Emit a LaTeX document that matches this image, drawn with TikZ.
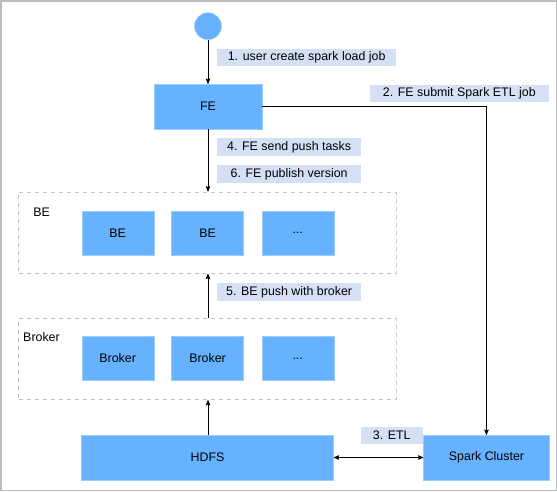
\documentclass[tikz,border=0pt]{standalone}
\usepackage{fontspec}
\setmainfont{Liberation Sans}
\usetikzlibrary{positioning,arrows}
\definecolor{nodeblue}{HTML}{66B2FF}
\definecolor{nodeline}{HTML}{99CCFF}
\definecolor{tagblue}{HTML}{D4E1F5}
\definecolor{groupgray}{HTML}{C4C4C4}
\definecolor{framegray}{HTML}{BDBDBD}

\begin{document}
\begin{tikzpicture}[x = 1pt, y = -1pt, >= stealth', every text node part/.style = {align = center},
	font = \fontsize{12.4}{15}\selectfont,
	unit/.style = {draw = nodeline, fill = nodeblue, minimum width = 72pt, minimum height = 44pt, inner sep = 0pt},
	tag/.style = {fill = tagblue, minimum height = 17.7pt, inner sep = 0pt, anchor = west, xshift = 8.7pt},
	cluster/.style = {draw = groupgray, line width = 0.9pt, dash pattern = on 4pt off 4pt, minimum width = 377.5pt, minimum height = 81.5pt, inner sep = 0pt},
	flow/.style = {line width = 0.9pt}]
	\useasboundingbox (0,0) rectangle (557,491);
	\draw[framegray, line width = 1.5pt] (0.75,0.75) rectangle (556.25,490.25);
	% nodes
	\node[circle, draw = nodeline, fill = nodeblue, minimum size = 27pt, inner sep = 0pt] (start) at (208,26.2) {};
	\node[unit, minimum width = 108pt, minimum height = 45pt] (fe) at (208,106.5) {FE};
	\node[cluster] (begroup) at (207.25,232.7) {};
	\node (belabel) at (41.7,212) {BE};
	\node[unit] (be1) at (117.7,233) {BE};
	\node[unit] (be2) at (207.6,233) {BE};
	\node[unit] (be3) at (297.7,233) {...};
	\node[cluster] (brokergroup) at (207.25,359) {};
	\node (brokerlabel) at (41.5,337) {Broker};
	\node[unit] (broker1) at (117.7,358.5) {Broker};
	\node[unit] (broker2) at (207.6,358.5) {Broker};
	\node[unit] (broker3) at (297.7,358.5) {...};
	\node[unit, minimum width = 252pt, minimum height = 45pt] (hdfs) at (207.6,457.5) {HDFS};
	\node[unit, minimum width = 126pt, minimum height = 45pt] (spark) at (486.5,457.5) {Spark Cluster};
	% connectors
	\path[->, flow] (start) edge node[tag, pos = 0.4, minimum width = 179pt] (t1) {1. user create spark load job} (fe);
	\draw[->, flow] (fe) -| node[tag, anchor = center, xshift = 0pt, pos = 0.42, yshift = 12.9pt, minimum width = 179pt] (t2) {2. FE submit Spark ETL job} (spark);
	\path[->, flow] (fe) edge node[tag, pos = 0.29, minimum width = 144pt] (t4) {4. FE send push tasks}
		node[tag, pos = 0.72, minimum width = 144pt] (t6) {6. FE publish version} (fe |- begroup.north);
	\path[->, flow] (fe |- brokergroup.north) edge node[tag, pos = 0.58, minimum width = 144pt] (t5) {5. BE push with broker} (fe |- begroup.south);
	\path[->, flow] (fe |- hdfs.north) edge (fe |- brokergroup.south);
	\path[<->, flow] (hdfs) edge node[tag, anchor = center, xshift = 0pt, pos = 0.55, yshift = 22.1pt, minimum width = 62pt] (t3) {3. ETL} (spark);
\end{tikzpicture}
\end{document}
